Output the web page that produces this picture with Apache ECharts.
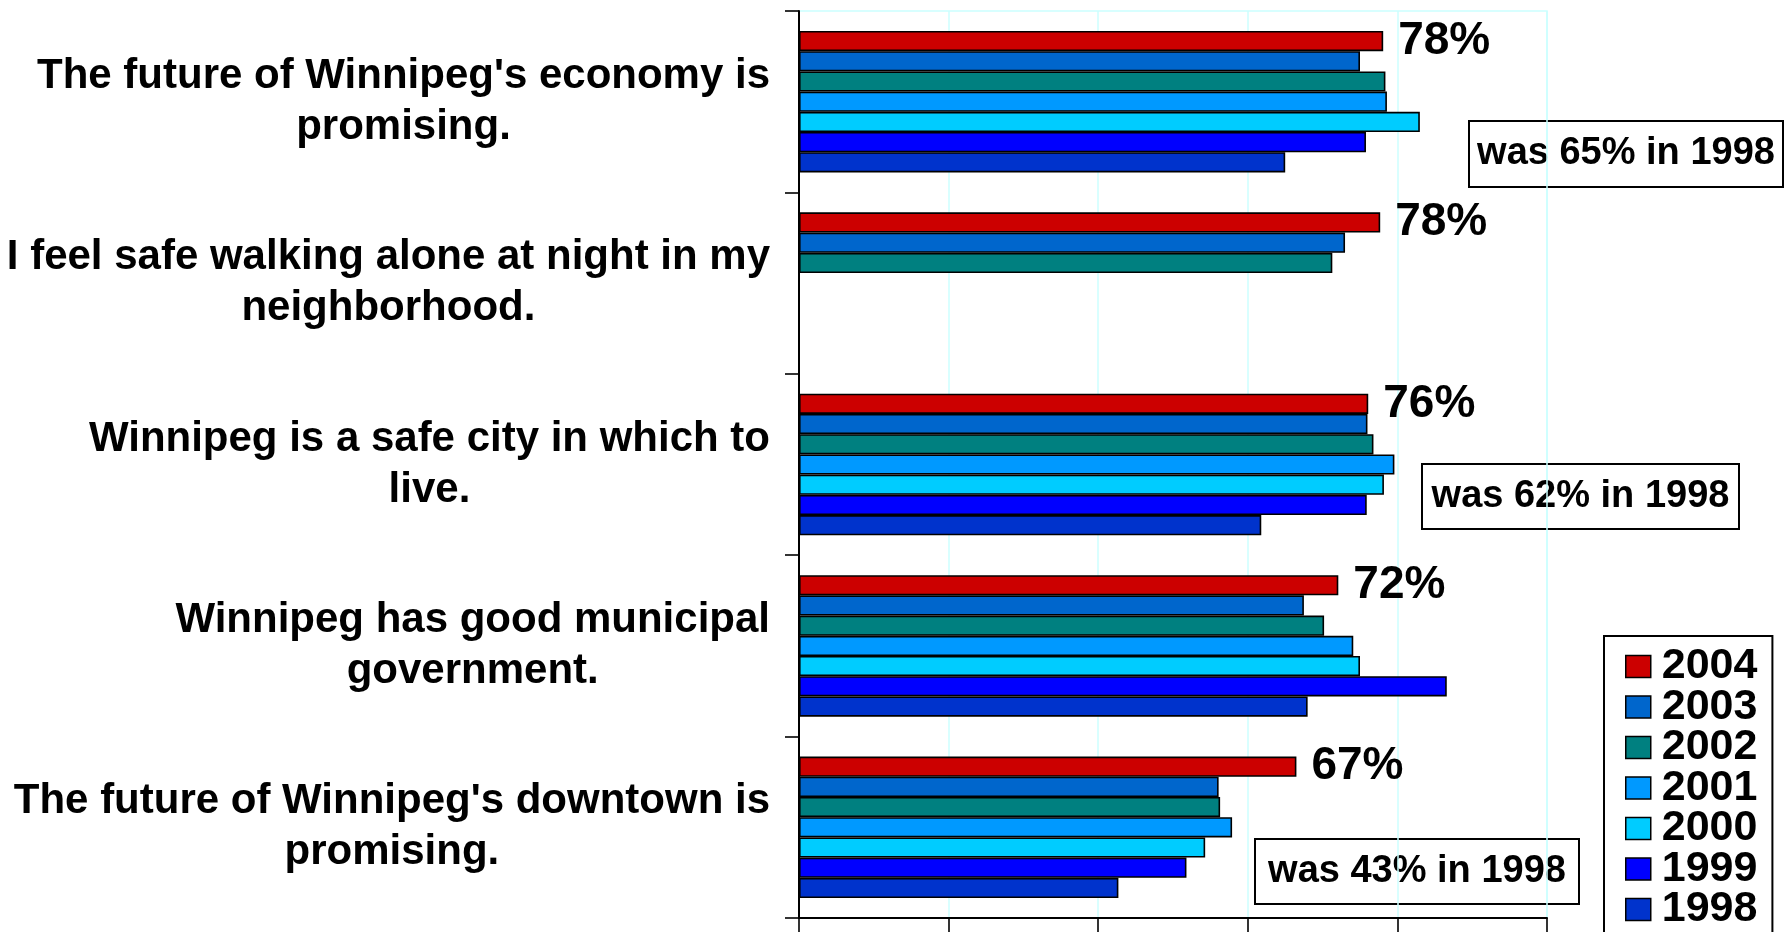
<!DOCTYPE html>
<html>
<head>
<meta charset="utf-8">
<script src="https://cdn.jsdelivr.net/npm/echarts@6/dist/echarts.min.js"></script>
<style>
html,body{margin:0;padding:0;background:#fff;}
#chart{width:1788px;height:932px;}
</style>
</head>
<body>
<div id="chart"></div>
<script>
// ---- data ----
const categories = [
  "The future of Winnipeg's economy is\npromising.",
  "I feel safe walking alone at night in my\nneighborhood.",
  "Winnipeg is a safe city in which to\nlive.",
  "Winnipeg has good municipal\ngovernment.",
  "The future of Winnipeg's downtown is\npromising."
];
const years = ['2004', '2003', '2002', '2001', '2000', '1999', '1998'];
const v2004 = [78.1, 77.7, 76.1, 72.1, 66.5];
const v2003 = [75.0, 73.0, 76.0, 67.5, 56.1];
const v2002 = [78.4, 71.3, 76.8, 70.2, 56.3];
const v2001 = [78.6, null, 79.6, 74.1, 57.9];
const v2000 = [83.0, null, 78.2, 75.0, 54.3];
const v1999 = [75.8, null, 75.9, 86.6, 51.8];
const v1998 = [65.0, null, 61.8, 68.0, 42.7];
const labels2004 = ['78%', '78%', '76%', '72%', '67%'];
const notes = ['was 65% in 1998', 'was 62% in 1998', 'was 43% in 1998'];

const seriesValues = [v2004, v2003, v2002, v2001, v2000, v1999, v1998];
const colors = ['#CC0000', '#0066CC', '#008080', '#0099FF', '#00CCFF', '#0000FF', '#0033CC'];
const FONT = "'Liberation Sans', Arial, Helvetica, sans-serif";

const chart = echarts.init(document.getElementById('chart'));

const series = years.map((y, i) => {
  const s = {
    name: y,
    type: 'bar',
    data: seriesValues[i],
    barGap: '0%',
    barCategoryGap: '22%',
    itemStyle: { color: colors[i], borderColor: '#000', borderWidth: 1.6 },
    emphasis: { disabled: true },
    animation: false
  };
  if (i === 0) {
    s.label = {
      show: true,
      position: 'right',
      distance: 15,
      formatter: p => labels2004[p.dataIndex],
      fontFamily: FONT,
      fontWeight: 'bold',
      fontSize: 46,
      color: '#000'
    };
  }
  return s;
});

function noteBox(text, x, y, w, h) {
  return {
    type: 'group',
    left: x, top: y,
    children: [
      { type: 'rect', shape: { x: 0, y: 0, width: w, height: h },
        style: { fill: 'transparent', stroke: '#000', lineWidth: 2 } },
      { type: 'text', x: w / 2, y: h / 2,
        style: { text: text, fill: '#000', font: 'bold 38px ' + FONT,
                 textAlign: 'center', textVerticalAlign: 'middle' } }
    ]
  };
}

const option = {
  backgroundColor: '#fff',
  animation: false,
  grid: {
    left: 799, top: 11, width: 748, height: 907,
    show: true, borderColor: '#ccffff', borderWidth: 1.5, backgroundColor: 'transparent'
  },
  legend: {
    type: 'plain',
    orient: 'vertical',
    left: 1604, top: 636,
    height: 330,
    data: years,
    icon: 'rect',
    itemWidth: 25, itemHeight: 22,
    itemGap: -2.5,
    padding: [9, 15, 10, 21],
    borderColor: '#000', borderWidth: 2,
    backgroundColor: '#fff',
    selectedMode: false,
    itemStyle: { borderColor: '#000', borderWidth: 1.5 },
    textStyle: { fontFamily: FONT, fontWeight: 'bold', fontSize: 43, color: '#000', padding: [0, 0, 0, 6] }
  },
  xAxis: {
    type: 'value',
    min: 0, max: 100, interval: 20,
    axisLine: { show: true, lineStyle: { color: '#000', width: 2 } },
    axisTick: { show: true, length: 16, lineStyle: { color: '#000', width: 1.6 } },
    axisLabel: { show: false },
    splitLine: { show: true, lineStyle: { color: '#ccffff', width: 1.5 } }
  },
  yAxis: {
    type: 'category',
    inverse: true,
    data: categories,
    axisLine: { show: true, lineStyle: { color: '#000', width: 2 } },
    axisTick: { show: true, length: 14, lineStyle: { color: '#000', width: 1.6 } },
    splitLine: { show: false },
    axisLabel: {
      margin: 29,
      align: 'right',
      formatter: v => v.split('\n').map(l => '{c|' + l + '}').join('\n'),
      rich: {
        c: { align: 'center', fontFamily: FONT, fontWeight: 'bold', fontSize: 42, lineHeight: 51, color: '#000' }
      }
    }
  },
  graphic: [
    noteBox(notes[0], 1468, 120, 314, 66),
    noteBox(notes[1], 1421, 463, 317, 65),
    noteBox(notes[2], 1254, 838, 324, 65)
  ],
  series: series
};
chart.setOption(option);
</script>
</body>
</html>
